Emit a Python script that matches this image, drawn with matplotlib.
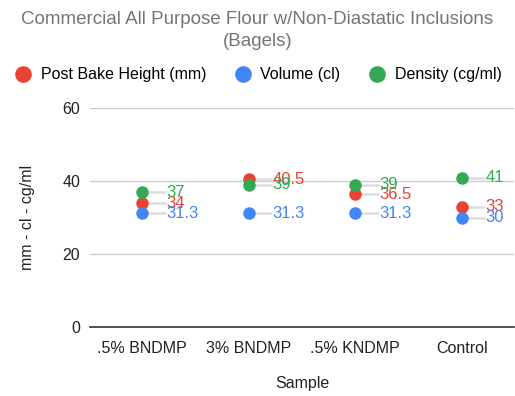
import matplotlib
matplotlib.use("Agg")
import matplotlib.pyplot as plt
from matplotlib.lines import Line2D
import numpy as np

categories = [".5% BNDMP", "3% BNDMP", ".5% KNDMP", "Control"]
height = [34, 40.5, 36.5, 33]
volume = [31.3, 31.3, 31.3, 30]
density = [37, 39, 39, 41]
series_names = ["Post Bake Height (mm)", "Volume (cl)", "Density (cg/ml)"]
colors = ["#ea4335", "#4285f4", "#34a853"]
labels_fmt = [["34", "40.5", "36.5", "33"], ["31.3", "31.3", "31.3", "30"], ["37", "39", "39", "41"]]

plt.rcParams['font.family'] = ['Liberation Sans', 'DejaVu Sans']
fig = plt.figure(figsize=(5.15, 3.96), dpi=100)
ax = fig.add_axes([90/515, 1-327.3/396, (514-90)/515, (327.3-108.3)/396])

x = np.arange(len(categories))
allseries = [height, volume, density]
for vals, c, labs in zip(allseries, colors, labels_fmt):
    for xi, v, lab in zip(x, vals, labs):
        ax.plot([xi, xi + 0.22], [v, v], color="#dddddd", lw=1.8, zorder=2, solid_capstyle='butt')
        ax.text(xi + 0.225, v, lab, color=c, fontsize=12, va="center", ha="left", zorder=4)
    ax.plot(x, vals, 'o', color=c, markersize=9, zorder=3, markeredgewidth=0)

ax.set_xlim(-0.49, 3.49)
ax.set_ylim(0, 60)
ax.set_yticks([0, 20, 40, 60])
ax.set_xticks(x)
ax.set_xticklabels(categories)
ax.grid(axis='y', color="#cccccc", lw=1)
ax.set_axisbelow(True)
for s in ["top", "right", "left"]:
    ax.spines[s].set_visible(False)
ax.spines["bottom"].set_color("#333333")
ax.spines["bottom"].set_linewidth(1.2)
ax.spines["bottom"].set_zorder(1)
ax.tick_params(axis='x', length=0, labelsize=11.5, colors="#222222", pad=10)
ax.tick_params(axis='y', length=0, labelsize=11.5, colors="#222222", pad=7)
ax.set_xlabel("Sample", fontsize=11.5, color="#222222", labelpad=14)
ax.set_ylabel("mm - cl - cg/ml", fontsize=11.5, color="#222222", labelpad=20)

fig.text(0.5, 1-20/396, "Commercial All Purpose Flour w/Non-Diastatic Inclusions", ha="center", va="center", fontsize=13.5, color="#757575")
fig.text(0.5, 1-42/396, "(Bagels)", ha="center", va="center", fontsize=13.5, color="#757575")

handles = [Line2D([], [], marker='o', ls='', color=c, markersize=12, markeredgewidth=0) for c in colors]
fig.legend(handles, series_names, loc="center", bbox_to_anchor=(0.5, 1-75/396), ncol=3, frameon=False,
           fontsize=11.5, handletextpad=0.5, columnspacing=1.7, handlelength=1.2)

fig.savefig("out.png", dpi=100)
